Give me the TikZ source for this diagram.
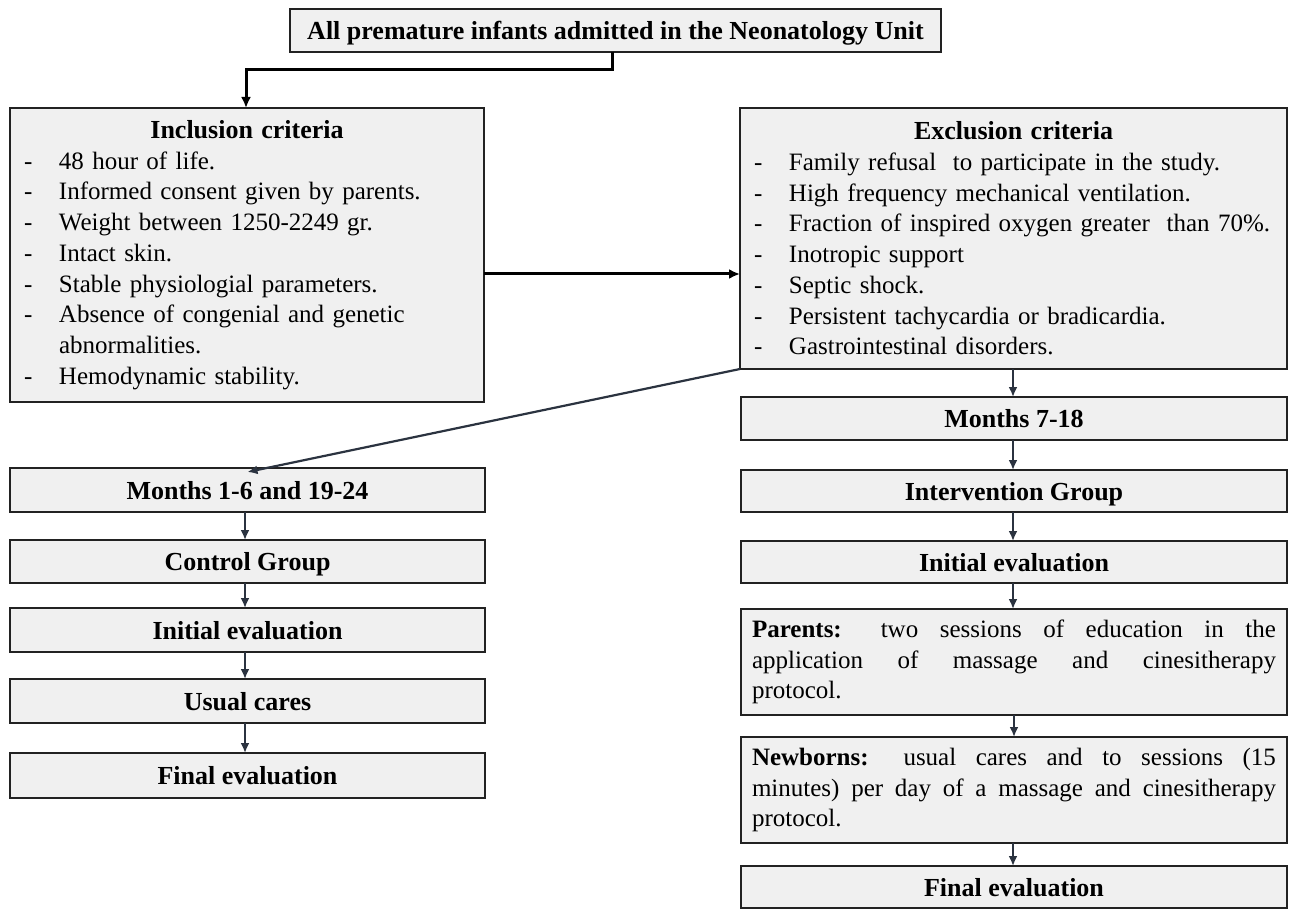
\documentclass[tikz,border=0pt]{standalone}
\usepackage{fontspec}
\setmainfont{Liberation Serif}
\usetikzlibrary{arrows.meta}
\definecolor{boxfill}{HTML}{F0F0F0}
\definecolor{boxline}{HTML}{222222}
\definecolor{arrowc}{HTML}{2B3340}
\newcommand{\itm}[1]{\makebox[35pt][l]{-}#1}
\newcommand{\bt}[1]{{\fontsize{26}{30.7}\selectfont\textbf{#1}}}
\tikzset{
  box/.style={draw=boxline, line width=2.6pt, fill=boxfill, rectangle, inner sep=0pt, outer sep=0pt,
    font=\fontsize{25}{30.7}\selectfont},
  single/.style={box, text height=22pt, text depth=4pt},
  listbox/.style={box, inner xsep=14pt, align=left},
  parabox/.style={box, inner xsep=11pt, align=justify},
  thickarrow/.style={draw=black, line width=3pt, -{Latex[length=11pt,width=10pt]}},
  thinarrow/.style={draw=arrowc, line width=2.2pt, -{Latex[length=10pt,width=9pt]}}
}
\begin{document}
\begin{tikzpicture}[x=1pt,y=-1pt]
\useasboundingbox (0,0) rectangle (1298,909);
\fill[white] (0,0) rectangle (1298,909);

\node[single, minimum width=651pt, minimum height=43pt] (top) at (615.5,30.5)
  {\bt{All premature infants admitted in the Neonatology Unit}};

\node[listbox, text width=446pt, minimum width=474pt, minimum height=294pt] (incl) at (247,255) {%
\makebox[\linewidth]{\bt{Inclusion criteria}}\\
\itm{48 hour of life.}\\
\itm{Informed consent given by parents.}\\
\itm{Weight between 1250-2249 gr.}\\
\itm{Intact skin.}\\
\itm{Stable physiologial parameters.}\\
\itm{Absence of congenial and genetic}\\
\hspace*{35pt}abnormalities.\\
\itm{Hemodynamic stability.}};

\node[listbox, text width=519pt, minimum width=547pt, minimum height=261pt] (excl) at (1013.5,238.5) {%
\makebox[\linewidth]{\bt{Exclusion criteria}}\\
\itm{Family refusal\ \ to participate in the study.}\\
\itm{High frequency mechanical ventilation.}\\
\itm{Fraction of inspired oxygen greater\ \ than 70\%.}\\
\itm{Inotropic support}\\
\itm{Septic shock.}\\
\itm{Persistent tachycardia or bradicardia.}\\
\itm{Gastrointestinal disorders.}};

% left column
\node[single, minimum width=475pt, minimum height=44pt] (l1) at (247.5,490) {\bt{Months 1-6 and 19-24}};
\node[single, minimum width=475pt, minimum height=43pt] (l2) at (247.5,561.5) {\bt{Control Group}};
\node[single, minimum width=475pt, minimum height=44pt] (l3) at (247.5,630) {\bt{Initial evaluation}};
\node[single, minimum width=475pt, minimum height=44pt] (l4) at (247.5,701) {\bt{Usual cares}};
\node[single, minimum width=475pt, minimum height=45pt] (l5) at (247.5,775.5) {\bt{Final evaluation}};

% right column
\node[single, minimum width=546pt, minimum height=43pt] (r1) at (1014,418.5) {\bt{Months 7-18}};
\node[single, minimum width=546pt, minimum height=42pt] (r2) at (1014,491) {\bt{Intervention Group}};
\node[single, minimum width=546pt, minimum height=42pt] (r3) at (1014,562) {\bt{Initial evaluation}};
\node[parabox, text width=524pt, minimum width=546pt, minimum height=106pt] (r4) at (1014,662)
  {\textbf{Parents:} two sessions of education in the\linebreak application of massage and cinesitherapy\linebreak protocol.};
\node[parabox, text width=524pt, minimum width=546pt, minimum height=106pt] (r5) at (1014,790)
  {\textbf{Newborns:} usual cares and to sessions (15\linebreak minutes) per day of a massage and cinesitherapy\linebreak protocol.};
\node[single, minimum width=546pt, minimum height=42pt] (r6) at (1014,887) {\bt{Final evaluation}};

% connectors
\coordinate (tj) at (612,70);
\draw[thickarrow] (top.south -| tj) -- (tj) -- (246,70) -- (incl.north -| 246,0);
\draw[thickarrow] (incl.east |- 0,274) -- (excl.west |- 0,274);
\draw[thinarrow] (excl.south west) -- ([yshift=-4pt]l1.north);

\draw[thinarrow] (l1.south -| 245,0) -- (l2.north -| 245,0);
\draw[thinarrow] (l2.south -| 245,0) -- (l3.north -| 245,0);
\draw[thinarrow] (l3.south -| 245,0) -- (l4.north -| 245,0);
\draw[thinarrow] (l4.south -| 245,0) -- (l5.north -| 245,0);

\draw[thinarrow] (excl.south -| 1013,0) -- (r1.north -| 1013,0);
\draw[thinarrow] (r1.south -| 1013,0) -- (r2.north -| 1013,0);
\draw[thinarrow] (r2.south -| 1013,0) -- (r3.north -| 1013,0);
\draw[thinarrow] (r3.south -| 1013,0) -- (r4.north -| 1013,0);
\draw[thinarrow] (r4.south -| 1014,0) -- (r5.north -| 1014,0);
\draw[thinarrow] (r5.south -| 1013,0) -- (r6.north -| 1013,0);
\end{tikzpicture}
\end{document}
